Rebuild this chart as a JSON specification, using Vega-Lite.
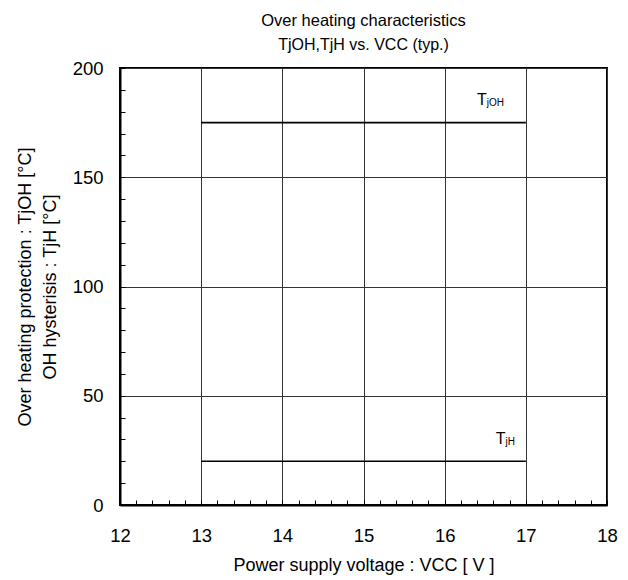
{
  "$schema": "https://vega.github.io/schema/vega-lite/v6.json",
  "width": 487,
  "height": 437,
  "autosize": {"type": "none"},
  "padding": {"left": 120, "top": 68, "right": 21, "bottom": 75},
  "background": "white",
  "config": {
    "font": "Liberation Sans",
    "view": {"stroke": "black", "strokeWidth": 2},
    "axis": {
      "labelFont": "Liberation Sans",
      "labelFontSize": 18.5,
      "labelColor": "black",
      "titleFont": "Liberation Sans",
      "titleFontSize": 18,
      "titleFontWeight": "normal",
      "titleColor": "black",
      "domainColor": "black",
      "domainWidth": 2,
      "tickColor": "black",
      "tickWidth": 1,
      "tickSize": -5,
      "tickCount": 200,
      "gridColor": "#333333",
      "gridWidth": 1,
      "labelOverlap": false,
      "labelFlush": false,
      "format": "d"
    }
  },
  "title": {
    "text": "Over heating characteristics",
    "subtitle": "TjOH,TjH vs. VCC (typ.)",
    "font": "Liberation Sans",
    "subtitleFont": "Liberation Sans",
    "fontSize": 16.5,
    "subtitleFontSize": 16,
    "fontWeight": "normal",
    "color": "black",
    "subtitleColor": "black",
    "anchor": "middle",
    "offset": 6,
    "subtitlePadding": 8
  },
  "datasets": {
    "lines": [
      {"series": "TjOH", "Vcc": 13, "T": 175},
      {"series": "TjOH", "Vcc": 17, "T": 175},
      {"series": "TjH", "Vcc": 13, "T": 20},
      {"series": "TjH", "Vcc": 17, "T": 20}
    ],
    "labels": [
      {"main": "T", "sub": "jOH", "Vcc": 16.52, "T": 183},
      {"main": "T", "sub": "jH", "Vcc": 16.75, "T": 28}
    ]
  },
  "layer": [
    {
      "data": {"name": "lines"},
      "mark": {"type": "line", "color": "black", "strokeWidth": 1.6},
      "encoding": {
        "x": {
          "field": "Vcc",
          "type": "quantitative",
          "scale": {"domain": [12, 18], "nice": false, "zero": false},
          "axis": {
            "title": "Power supply voltage : VCC [ V ]",
            "titlePadding": 12,
            "labelPadding": 26,
            "values": [12, 12.2, 12.4, 12.6, 12.8, 13, 13.2, 13.4, 13.6, 13.8, 14, 14.2, 14.4, 14.6, 14.8, 15, 15.2, 15.4, 15.6, 15.8, 16, 16.2, 16.4, 16.6, 16.8, 17, 17.2, 17.4, 17.6, 17.8, 18],
            "labelExpr": "datum.value % 1 === 0 ? datum.label : ''",
            "gridOpacity": {"condition": {"test": "datum.value % 1 === 0", "value": 1}, "value": 0}
          }
        },
        "y": {
          "field": "T",
          "type": "quantitative",
          "scale": {"domain": [0, 200], "nice": false},
          "axis": {
            "title": ["Over heating protection : TjOH [°C]", "OH hysterisis : TjH [°C]"],
            "titlePadding": 13,
            "titleLineHeight": 25,
            "labelPadding": 22,
            "values": [0, 10, 20, 30, 40, 50, 60, 70, 80, 90, 100, 110, 120, 130, 140, 150, 160, 170, 180, 190, 200],
            "labelExpr": "datum.value % 50 === 0 ? datum.label : ''",
            "gridOpacity": {"condition": {"test": "datum.value % 50 === 0", "value": 1}, "value": 0}
          }
        },
        "detail": {"field": "series"}
      }
    },
    {
      "data": {"name": "labels"},
      "mark": {"type": "text", "align": "right", "baseline": "alphabetic", "fontSize": 16, "color": "black", "font": "Liberation Sans"},
      "encoding": {
        "x": {"field": "Vcc", "type": "quantitative"},
        "y": {"field": "T", "type": "quantitative"},
        "text": {"field": "main"}
      }
    },
    {
      "data": {"name": "labels"},
      "mark": {"type": "text", "align": "left", "baseline": "alphabetic", "fontSize": 10, "dy": 1, "color": "black", "font": "Liberation Sans"},
      "encoding": {
        "x": {"field": "Vcc", "type": "quantitative"},
        "y": {"field": "T", "type": "quantitative"},
        "text": {"field": "sub"}
      }
    }
  ]
}
